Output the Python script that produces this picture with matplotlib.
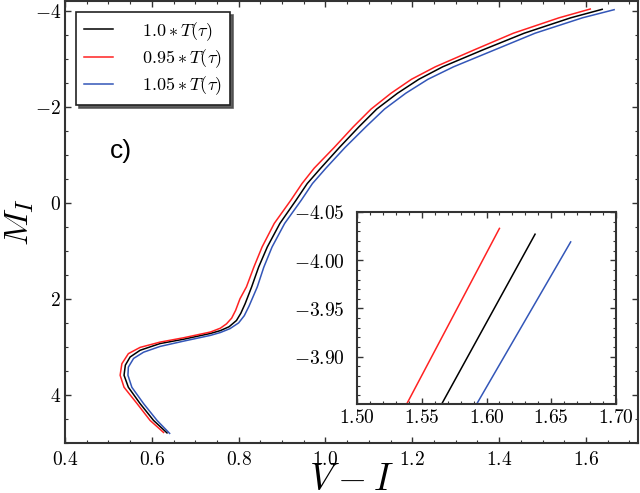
import numpy as np
import matplotlib
matplotlib.use("Agg")
from matplotlib import pyplot as plt
from matplotlib.ticker import MultipleLocator, FuncFormatter

plt.rcParams['mathtext.fontset'] = 'cm'

# isochrones: colour V-I and magnitude M_I
vi_1 = [0.635, 0.604, 0.573, 0.546, 0.536, 0.539, 0.550, 0.573, 0.619, 0.673, 0.735, 0.758, 0.778,
        0.795, 0.805, 0.815, 0.830, 0.846, 0.866, 0.895, 0.932, 0.958, 0.989, 1.032, 1.077, 1.118,
        1.166, 1.215, 1.270, 1.362, 1.458, 1.565, 1.6375]
mi_1 = [4.79, 4.53, 4.18, 3.84, 3.59, 3.38, 3.21, 3.07, 2.93, 2.84, 2.72, 2.66, 2.58,
        2.45, 2.30, 2.10, 1.75, 1.34, 0.92, 0.43, -0.05, -0.40, -0.72, -1.15, -1.58, -1.95,
        -2.28, -2.57, -2.83, -3.18, -3.53, -3.85, -4.027]

vi_095 = [0.627, 0.596, 0.566, 0.536, 0.527, 0.531, 0.546, 0.573, 0.619, 0.673, 0.735, 0.758, 0.772,
          0.784, 0.793, 0.803, 0.818, 0.835, 0.854, 0.882, 0.920, 0.946, 0.974, 1.020, 1.064, 1.105,
          1.151, 1.198, 1.253, 1.342, 1.433, 1.538, 1.610]
mi_095 = [4.78, 4.53, 4.18, 3.84, 3.59, 3.35, 3.14, 3.01, 2.90, 2.81, 2.69, 2.61, 2.52,
          2.40, 2.24, 2.00, 1.75, 1.34, 0.92, 0.43, -0.05, -0.40, -0.72, -1.15, -1.58, -1.95,
          -2.28, -2.57, -2.83, -3.18, -3.53, -3.85, -4.033]

vi_105 = [0.641, 0.612, 0.581, 0.554, 0.545, 0.546, 0.558, 0.581, 0.619, 0.673, 0.735, 0.758, 0.780,
          0.800, 0.813, 0.824, 0.843, 0.858, 0.877, 0.906, 0.944, 0.970, 1.001, 1.045, 1.093, 1.136,
          1.185, 1.236, 1.295, 1.389, 1.483, 1.592, 1.665]
mi_105 = [4.80, 4.53, 4.18, 3.84, 3.59, 3.42, 3.24, 3.11, 2.99, 2.88, 2.76, 2.70, 2.62,
          2.50, 2.35, 2.15, 1.75, 1.34, 0.92, 0.43, -0.05, -0.40, -0.72, -1.15, -1.58, -1.95,
          -2.28, -2.57, -2.83, -3.18, -3.53, -3.85, -4.019]

labels = [r'$1.0*T(\tau)$', r'$0.95*T(\tau)$', r'$1.05*T(\tau)$']
colors = ['black', '#ff2222', '#3356b8']
series = [(vi_1, mi_1), (vi_095, mi_095), (vi_105, mi_105)]

spine_c = '#333333'


def style_axes(a, xmaj, xmin, ymaj, ymin, xfmt, yfmt, xpad, ypad):
    a.xaxis.set_major_locator(MultipleLocator(xmaj))
    a.xaxis.set_minor_locator(MultipleLocator(xmin))
    a.yaxis.set_major_locator(MultipleLocator(ymaj))
    a.yaxis.set_minor_locator(MultipleLocator(ymin))
    a.xaxis.set_major_formatter(FuncFormatter(lambda v, p: '$' + (xfmt % v) + '$'))
    a.yaxis.set_major_formatter(FuncFormatter(lambda v, p: '$' + (yfmt % v) + '$'))
    a.tick_params(which='both', direction='in', top=True, right=True, color=spine_c, labelsize=14)
    a.tick_params(which='major', length=4, width=1)
    a.tick_params(which='minor', length=2.5, width=0.8)
    a.tick_params(axis='x', pad=xpad)
    a.tick_params(axis='y', pad=ypad)
    for s in a.spines.values():
        s.set_color(spine_c)
        s.set_linewidth(1.5)


fig = plt.figure(figsize=(6.4, 4.93), dpi=100)
ax = fig.add_axes([65/640, 50/493, 573/640, 442/493])
for (x, y), c, l in zip(series, colors, labels):
    ax.plot(x, y, color=c, lw=1.1, label=l)
ax.set_xlim(0.4, 1.72)
ax.set_ylim(5.0, -4.2)
style_axes(ax, 0.2, 0.05, 2, 0.5, '%.1f', '%d', 5, 3)
ax.set_xlabel(r'$V-I$', fontsize=27)
ax.xaxis.set_label_coords(0.5, -0.044)
ax.set_ylabel(r'$M_I$', fontsize=25)
ax.yaxis.set_label_coords(-0.05, 0.5)
ax.text(0.078, 0.645, 'c)', transform=ax.transAxes, fontsize=19, family='Liberation Sans')

leg = ax.legend(loc='upper left', fontsize=13, frameon=True, fancybox=False,
                shadow={'color': '0.3', 'alpha': 0.9}, framealpha=1,
                handlelength=1.6, handletextpad=1.6, borderpad=0.45, labelspacing=0.25,
                borderaxespad=0.6)
leg.get_frame().set_edgecolor('#222222')
leg.get_frame().set_linewidth(1.2)

ins = fig.add_axes([357/640, 89/493, 259/640, 192/493])
for (x, y), c in zip(series, colors):
    ins.plot(x, y, color=c, lw=1.1)
ins.set_xlim(1.50, 1.70)
ins.set_ylim(-3.851, -4.05)
style_axes(ins, 0.05, 0.01, 0.05, 0.01, '%.2f', '%.2f', 3, 9)

fig.savefig('out.png', dpi=100)
